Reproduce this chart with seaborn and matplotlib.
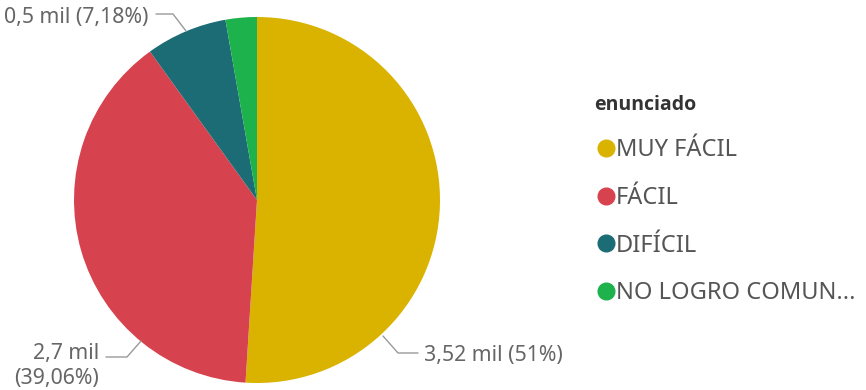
import matplotlib
matplotlib.use("Agg")
import matplotlib.pyplot as plt
import seaborn as sns
from matplotlib.lines import Line2D
from matplotlib.font_manager import FontProperties

sns.set_theme(style="white")
plt.rcParams['font.family'] = ['Noto Sans', 'DejaVu Sans']

categories = ["MUY FÁCIL", "FÁCIL", "DIFÍCIL", "NO LOGRO COMUN..."]
percents = [51.0, 39.06, 7.18, 2.76]
value_labels = ["3,52 mil (51%)", "2,7 mil\n(39,06%)", "0,5 mil (7,18%)", ""]
colors = ["#DAB300", "#D6434F", "#1B6C75", "#1DB24B"]

W, H = 866, 390
fig = plt.figure(figsize=(W / 100, H / 100), dpi=100)
cx, cy, r = 257, 200, 183
ax = fig.add_axes([(cx - r) / W, (H - cy - r) / H, 2 * r / W, 2 * r / H])
ax.pie(percents, colors=colors, startangle=90, counterclock=False,
       wedgeprops=dict(linewidth=0), radius=1)
ax.set_xlim(-1, 1)
ax.set_ylim(-1, 1)
ax.set_aspect("equal")
ax.axis("off")

def px(x, y):
    return ((x - cx) / r, (cy - y) / r)

gray = "#666666"
lc = "#9a9a9a"
fs = 15.3

def leader(points):
    xs, ys = zip(*[px(*p) for p in points])
    ax.plot(xs, ys, color=lc, lw=1, clip_on=False)

leader([(156, 14), (173, 14), (186, 31)])
ax.text(*px(148, 17), value_labels[2], ha="right", va="center", color=gray, fontsize=fs, clip_on=False)

leader([(106, 357), (127, 357), (141, 341)])
ax.text(*px(99, 366), value_labels[1], ha="right", va="center", color=gray, fontsize=fs,
        linespacing=1.25, clip_on=False)

leader([(383, 336), (398, 353), (418, 353)])
ax.text(*px(424, 355), value_labels[0], ha="left", va="center", color=gray, fontsize=fs, clip_on=False)

handles = [Line2D([0], [0], marker="o", linestyle="", markersize=12,
                  markerfacecolor=c, markeredgecolor=c) for c in colors]
leg = fig.legend(handles, categories, loc="upper left",
                 bbox_to_anchor=(582 / W, 1 - 83 / H), frameon=False,
                 fontsize=17,
                 handletextpad=-0.05, handlelength=1.0, labelspacing=1.0,
                 borderpad=0)
leg.set_title("enunciado", prop=FontProperties(family="Open Sans", weight="bold", size=14))
leg.get_title().set_color("#333333")
leg._legend_box.align = "left"
for t in leg.get_texts():
    t.set_color("#555555")

fig.savefig("out.png", dpi=100)
